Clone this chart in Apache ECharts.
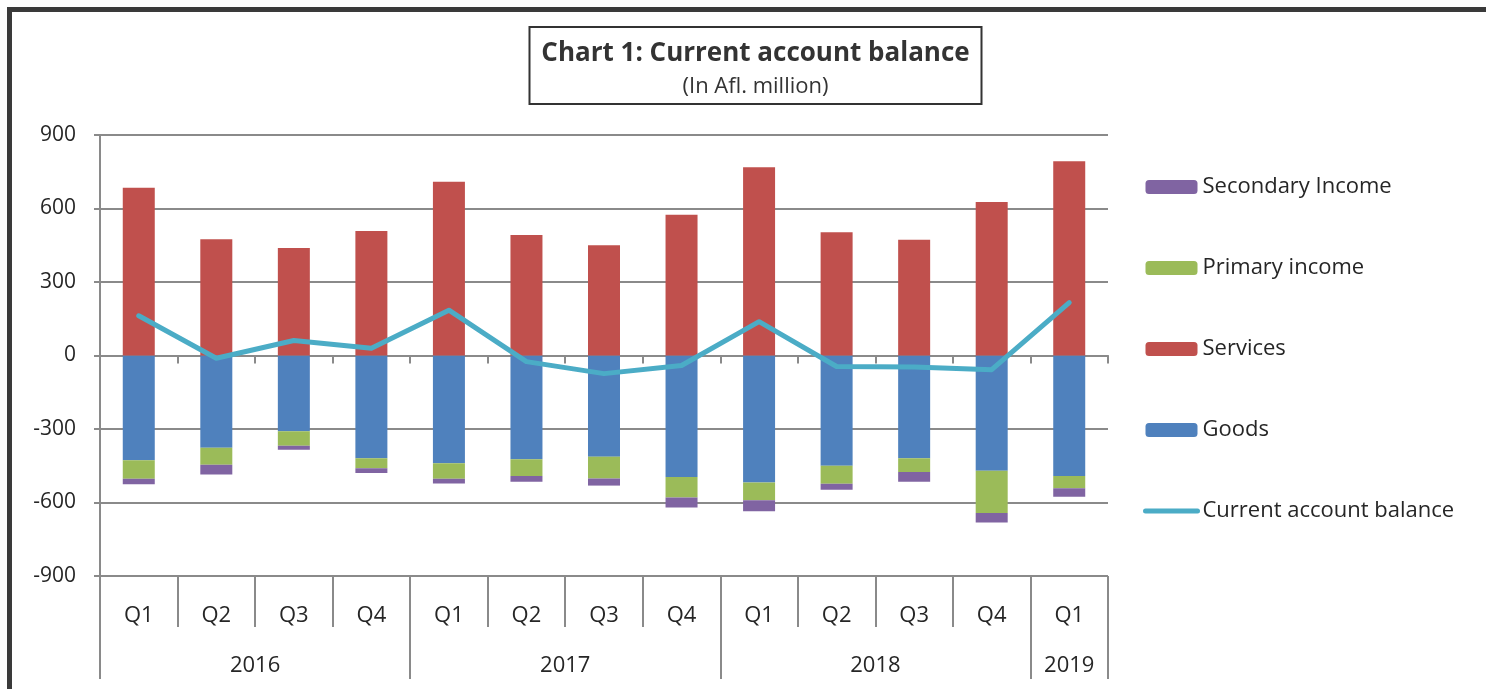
<!DOCTYPE html>
<html>
<head>
<meta charset="utf-8">
<script src="https://cdn.jsdelivr.net/npm/echarts@6/dist/echarts.min.js"></script>
<style>
html,body{margin:0;padding:0;background:#fff;}
#chart{width:1486px;height:689px;}
</style>
</head>
<body>
<div id="chart"></div>
<script>
const quarters = ['Q1','Q2','Q3','Q4','Q1','Q2','Q3','Q4','Q1','Q2','Q3','Q4','Q1'];
const years = ['2016','2017','2018','2019'];
const yearCenters = [2, 6, 10, 12.5];
const yearBounds = [0, 4, 8, 12, 13];
const yTicks = [-900, -600, -300, 0, 300, 600, 900];

const goods = [-428, -377, -309, -419, -440, -423, -413, -496, -518, -450, -419, -470, -492];
const services = [685, 475, 439, 508, 709, 492, 450, 574, 768, 503, 472, 627, 793];
const primaryIncome = [-75, -69, -59, -41, -63, -69, -89, -84, -73, -73, -57, -173, -50];
const secondaryIncome = [-23, -40, -17, -20, -19, -23, -29, -40, -45, -25, -39, -39, -35];
const currentAccount = [162, -11, 61, 30, 185, -25, -74, -41, 138, -45, -47, -58, 216];

const FONT = 'Open Sans';
const TXT = '#262626';
const GRAY = '#8a8a8a';

const chart = echarts.init(document.getElementById('chart'), null, {renderer: 'canvas'});

chart.setOption({
  animation: false,
  backgroundColor: '#fff',
  textStyle: {fontFamily: FONT, color: TXT},
  title: {
    text: 'Chart 1: Current account balance',
    subtext: '(In Afl. million)',
    left: 743.5,
    top: 27,
    textAlign: 'center',
    itemGap: 9,
    padding: [14, 12, 6, 12],
    borderColor: '#333',
    borderWidth: 2,
    textStyle: {fontFamily: FONT, fontSize: 26, fontWeight: 'bold', color: '#333'},
    subtextStyle: {fontFamily: FONT, fontSize: 22, color: '#333'}
  },
  graphic: [{
    type: 'rect',
    shape: {x: 9.5, y: 9.5, width: 1600, height: 900},
    style: {fill: 'none', stroke: '#3a3a3a', lineWidth: 5},
    silent: true
  }],
  legend: {
    orient: 'vertical',
    left: 1138,
    top: 170,
    itemWidth: 52,
    itemHeight: 14,
    itemGap: 57,
    itemTextGap: 6,
    data: [
      'Secondary Income', 'Primary income', 'Services', 'Goods',
      {name: 'Current account balance', itemStyle: {opacity: 0, borderWidth: 0}, lineStyle: {width: 5, cap: 'round'}}
    ],
    textStyle: {fontFamily: FONT, fontSize: 22, color: TXT, lineHeight: 24}
  },
  grid: {left: 100, right: 378, top: 135, bottom: 113, containLabel: false},
  xAxis: [
    {
      type: 'category',
      data: quarters,
      axisLine: {onZero: true, lineStyle: {color: GRAY, width: 2}},
      axisTick: {show: true, interval: 0, length: 8, lineStyle: {color: GRAY, width: 2}},
      axisLabel: {show: false},
      splitLine: {show: false}
    },
    {
      type: 'category',
      data: quarters,
      position: 'bottom',
      axisLine: {show: false, onZero: false},
      axisTick: {show: true, interval: 0, length: 51, lineStyle: {color: GRAY, width: 2}},
      axisLabel: {show: true, interval: 0, margin: 29, fontSize: 22, color: TXT, fontFamily: FONT},
      splitLine: {show: false}
    },
    {
      type: 'value',
      min: 0,
      max: 13,
      position: 'bottom',
      axisLine: {show: false, onZero: false},
      axisTick: {show: true, customValues: yearBounds, length: 103, lineStyle: {color: GRAY, width: 2}},
      axisLabel: {
        show: true,
        customValues: yearCenters,
        margin: 79,
        fontSize: 22,
        color: TXT,
        fontFamily: FONT,
        formatter: function (v) {
          const i = yearCenters.indexOf(v);
          return i >= 0 ? years[i] : '';
        }
      },
      splitLine: {show: false}
    }
  ],
  yAxis: {
    type: 'value',
    min: yTicks[0],
    max: yTicks[yTicks.length - 1],
    interval: 300,
    axisLine: {show: true, lineStyle: {color: GRAY, width: 2}},
    axisTick: {show: true, length: 6, lineStyle: {color: GRAY, width: 2}},
    axisLabel: {margin: 24, fontSize: 21, color: TXT, fontFamily: FONT},
    splitLine: {show: true, lineStyle: {color: GRAY, width: 2}}
  },
  series: [
    {name: 'Goods', type: 'bar', stack: 'ca', xAxisIndex: 0, data: goods, barWidth: 32, itemStyle: {color: '#4F81BD'}},
    {name: 'Services', type: 'bar', stack: 'ca', xAxisIndex: 0, data: services, barWidth: 32, itemStyle: {color: '#C0504D'}},
    {name: 'Primary income', type: 'bar', stack: 'ca', xAxisIndex: 0, data: primaryIncome, barWidth: 32, itemStyle: {color: '#9BBB59'}},
    {name: 'Secondary Income', type: 'bar', stack: 'ca', xAxisIndex: 0, data: secondaryIncome, barWidth: 32, itemStyle: {color: '#8064A2'}},
    {name: 'Current account balance', type: 'line', xAxisIndex: 0, data: currentAccount, symbol: 'none', z: 5,
      lineStyle: {color: '#4BACC6', width: 5, cap: 'round', join: 'round'}, itemStyle: {color: '#4BACC6'}}
  ]
});
</script>
</body>
</html>
